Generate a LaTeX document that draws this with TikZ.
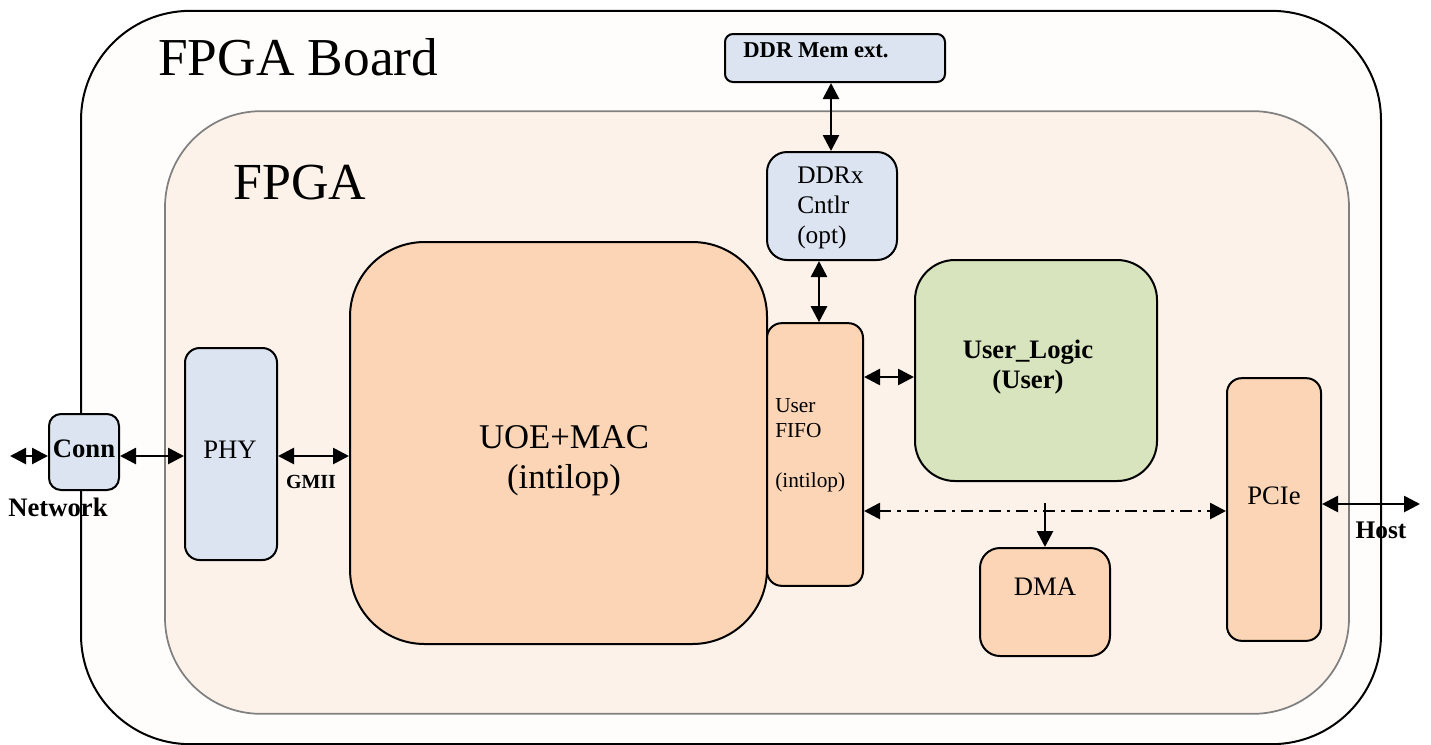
\documentclass[tikz,border=0pt]{standalone}
\usepackage{fontspec}
\setmainfont{Liberation Serif}
\usetikzlibrary{arrows.meta}
\definecolor{boardfill}{HTML}{FEFDFC}
\definecolor{fpgafill}{HTML}{FDF2EA}
\definecolor{orangefill}{HTML}{FBD5B5}
\definecolor{bluefill}{HTML}{DBE4F0}
\definecolor{greenfill}{HTML}{D7E4BD}
\definecolor{fpgaline}{HTML}{808080}
\newcommand{\fs}[1]{\fontsize{#1}{#1}\selectfont}
\tikzset{
  blk/.style={draw=black, line width=1.5pt, inner sep=0pt},
  orangeblk/.style={blk, fill=orangefill},
  blueblk/.style={blk, fill=bluefill},
  greenblk/.style={blk, fill=greenfill},
  txt/.style={inner sep=0pt, align=center},
  tip/.tip={Triangle[length=12pt,width=12pt]},
  conn/.style={line width=2pt, tip-tip},
  oneway/.style={line width=2pt, -tip},
  dashdot/.style={line width=2pt, dash pattern=on 9pt off 4.5pt on 2.5pt off 4.5pt, tip-tip},
}
\begin{document}
\begin{tikzpicture}[x=0.75pt, y=-0.75pt]
\useasboundingbox (0,0) rectangle (1431,744);
% board and fpga
\node[draw=black, line width=1.5pt, fill=boardfill, rounded corners=82pt, minimum width=975pt, minimum height=550pt, inner sep=0pt] (board) at (731,377.5) {};
\node[draw=fpgaline, line width=1.3pt, fill=fpgafill, rounded corners=72pt, minimum width=888pt, minimum height=452pt, inner sep=0pt] (fpga) at (757,412.5) {};
\node[txt, anchor=base west, font=\fs{40}] (boardlbl) at (158,75) {FPGA Board};
\node[txt, anchor=base west, font=\fs{39}] (fpgalbl) at (233,199) {FPGA};
% blocks
\node[blueblk, rounded corners=6pt, minimum width=165pt, minimum height=36pt] (ddrmem) at (835,58) {};
\node[txt, anchor=base west, font=\fs{17}\bfseries] (ddrmemlbl) at (743,57) {DDR Mem ext.};
\node[blueblk, rounded corners=15pt, minimum width=97.5pt, minimum height=81pt] (ddrx) at (832,206) {};
\node[txt, anchor=north west, align=left, font=\fontsize{19}{22.5}\selectfont] (ddrxlbl) at (797,167) {DDRx\\Cntlr\\(opt)};
\node[blueblk, rounded corners=9pt, minimum width=52.5pt, minimum height=57pt] (connb) at (84,452) {};
\node[txt, font=\fs{20}\bfseries] (connlbl) at (84,449) {Conn};
\node[txt, font=\fs{20}\bfseries] (netlbl) at (58,507) {Network};
\node[blueblk, rounded corners=11pt, minimum width=69pt, minimum height=159pt] (phy) at (231,454) {};
\node[txt, font=\fs{20}] (phylbl) at (230,450) {PHY};
\node[txt, font=\fs{15}\bfseries] (gmiilbl) at (311,482) {GMII};
\node[orangeblk, rounded corners=56pt, minimum width=312.75pt, minimum height=301.5pt] (uoe) at (558.5,443) {};
\node[txt, font=\fontsize{26}{30}\selectfont] (uoelbl) at (564,461) {UOE+MAC\\(intilop)};
\node[orangeblk, rounded corners=11pt, minimum width=72pt, minimum height=197pt] (fifo) at (815,454.5) {};
\node[txt, anchor=north west, align=left, font=\fontsize{16}{18.75}\selectfont] (fifolbl) at (775,398) {User\\FIFO\\[0pt]\mbox{}\\(intilop)};
\node[greenblk, rounded corners=30pt, minimum width=181.5pt, minimum height=165.75pt] (ul) at (1036,370.5) {};
\node[txt, font=\fontsize{20}{22.5}\selectfont\bfseries] (ullbl) at (1028,367) {User\_Logic\\(User)};
\node[orangeblk, rounded corners=15pt, minimum width=97.5pt, minimum height=81pt] (dma) at (1045,602) {};
\node[txt, font=\fs{20}] (dmalbl) at (1045,587) {DMA};
\node[orangeblk, rounded corners=11pt, minimum width=70.5pt, minimum height=197pt] (pcie) at (1274,509.5) {};
\node[txt, font=\fs{20}] (pcielbl) at (1274,496) {PCIe};
\node[txt, font=\fs{19}\bfseries] (hostlbl) at (1381,530) {Host};
% free ends and helper coordinates
\coordinate (netend) at (10,456);
\coordinate (hostend) at (1420,504);
\coordinate (dmatop) at (1045,503);
\coordinate (rowA) at (0,456);
\coordinate (rowB) at (0,377);
\coordinate (rowC) at (0,511);
\coordinate (rowD) at (0,504);
\coordinate (colA) at (831,0);
\coordinate (colB) at (819,0);
% connectors
\draw[conn] (netend) -- (netend -| connb.west);
\draw[conn] (rowA -| connb.east) -- (rowA -| phy.west);
\draw[conn] (rowA -| phy.east) -- (rowA -| uoe.west);
\draw[conn] (colA |- ddrmem.south) -- (colA |- ddrx.north);
\draw[conn] (colB |- ddrx.south) -- (colB |- fifo.north);
\draw[conn] (rowB -| fifo.east) -- (rowB -| ul.west);
\draw[dashdot] (rowC -| fifo.east) -- (rowC -| pcie.west);
\draw[oneway] (dmatop) -- (dma.north);
\draw[conn] (rowD -| pcie.east) -- (hostend);
\end{tikzpicture}
\end{document}
